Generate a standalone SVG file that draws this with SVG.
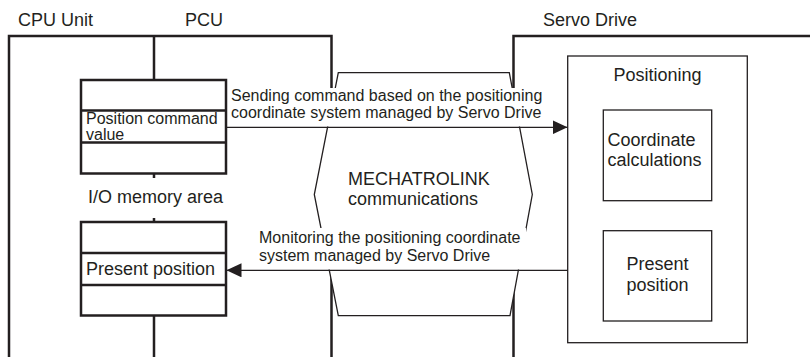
<svg xmlns="http://www.w3.org/2000/svg" width="810" height="357" viewBox="0 0 810 357">
<defs>
<style>
text{font-family:"Liberation Sans",Arial,sans-serif;fill:#231f20}
.t18{font-size:18px}
.t16{font-size:16px}
.thick{fill:none;stroke:#231f20;stroke-width:2.5}
.thin{fill:none;stroke:#231f20;stroke-width:1.3}
.bg{fill:#fff;stroke:none}
</style>
<marker id="ah" viewBox="0 0 15 14" refX="15" refY="7" markerWidth="15" markerHeight="14" markerUnits="userSpaceOnUse" orient="auto">
<path d="M0,0 L15,7 L0,14 Z" fill="#231f20"/>
</marker>
</defs>
<rect width="810" height="357" fill="#fff"/>

<g id="frames">
<path class="thick" d="M9,357 V36 H331.5 V357"/>
<path class="thick" d="M513.5,357 V36 H810"/>
<path class="thick" d="M154,36 V80 M154,174 V178 M154,218 V222 M154,316 V357"/>
<text class="t18" x="18" y="26">CPU Unit</text>
<text class="t18" x="185" y="26">PCU</text>
<text class="t18" x="543" y="26">Servo Drive</text>
</g>

<g id="mechatrolink">
<polygon points="338.3,72.7 509.3,72.7 532.3,194.5 510,315.7 338.3,315.7 314.3,194.5" fill="#fff" stroke="#231f20" stroke-width="1.3"/>
<text class="t18" x="348" y="185">MECHATROLINK</text>
<text class="t18" x="348" y="205">communications</text>
</g>

<g id="pcu-command-memory">
<rect class="thick" x="81" y="80" width="145" height="93.5"/>
<path class="thick" d="M81,110.5 H226 M81,142.5 H226"/>
<text class="t16" x="86" y="124">Position command</text>
<text class="t16" x="86" y="140">value</text>
</g>

<g id="io-label">
<text class="t18" x="88" y="203">I/O memory area</text>
</g>

<g id="pcu-present-memory">
<rect class="thick" x="81" y="222" width="145" height="93.5"/>
<path class="thick" d="M81,253 H226 M81,285 H226"/>
<text class="t18" x="86" y="275">Present position</text>
</g>

<g id="positioning">
<rect class="thin" x="567.7" y="56" width="179.6" height="286.7"/>
<text class="t18" x="657.5" y="81" text-anchor="middle">Positioning</text>
</g>

<g id="coordinate-calculations">
<rect class="thin" x="603.3" y="110" width="108.4" height="90.7"/>
<text class="t18" x="607.5" y="146">Coordinate</text>
<text class="t18" x="607.5" y="166">calculations</text>
</g>

<g id="servo-present-position">
<rect class="thin" x="603.3" y="230.7" width="108.4" height="90.3"/>
<text class="t18" x="657.5" y="270" text-anchor="middle">Present</text>
<text class="t18" x="657.5" y="290.5" text-anchor="middle">position</text>
</g>

<g id="connectors">
<rect class="bg" x="229" y="88" width="316" height="38.5"/>
<text class="t16" x="231" y="101">Sending command based on the positioning</text>
<text class="t16" x="231" y="118">coordinate system managed by Servo Drive</text>
<line class="thin" x1="226" y1="127.3" x2="567.5" y2="127.3" marker-end="url(#ah)"/>
<rect class="bg" x="256" y="228" width="270" height="41.5"/>
<text class="t16" x="259" y="243">Monitoring the positioning coordinate</text>
<text class="t16" x="259" y="260.5">system managed by Servo Drive</text>
<line class="thin" x1="567.7" y1="270.3" x2="226.5" y2="270.3" marker-end="url(#ah)"/>
</g>
</svg>
